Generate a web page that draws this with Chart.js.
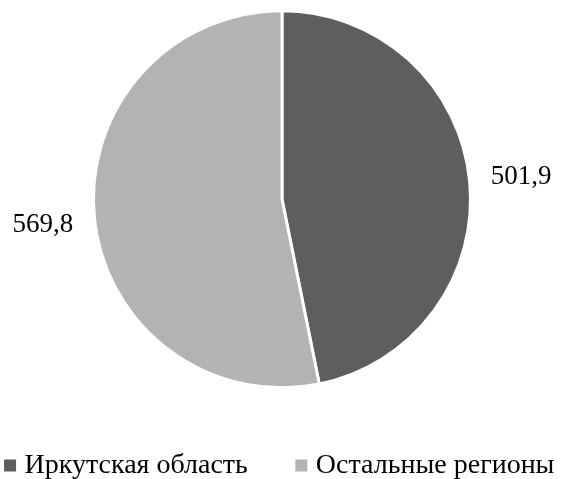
<!DOCTYPE html>
<html>
<head>
<meta charset="utf-8">
<script src="https://cdn.jsdelivr.net/npm/chart.js@4/dist/chart.umd.min.js"></script>
<style>
html,body{margin:0;padding:0;background:#fff;}
#wrap{width:564px;height:479px;position:relative;}
</style>
</head>
<body>
<div id="wrap"><canvas id="c"></canvas></div>
<script>
const categories = ["Иркутская область", "Остальные регионы"];
const values = [501.9, 569.8];
const valueLabels = ["501,9", "569,8"];
const colors = ["#5e5e5e", "#b3b3b3"];

const FONT = '"Liberation Serif", "Times New Roman", serif';
const LABEL_SIZE = 27;

const labelPlugin = {
  id: 'sliceLabels',
  afterDatasetsDraw(chart) {
    const ctx = chart.ctx;
    const meta = chart.getDatasetMeta(0);
    ctx.save();
    ctx.font = LABEL_SIZE + 'px ' + FONT;
    ctx.fillStyle = '#000';
    ctx.textAlign = 'center';
    ctx.textBaseline = 'alphabetic';
    meta.data.forEach((arc, i) => {
      const p = arc.getProps(['x','y','startAngle','endAngle','outerRadius'], true);
      const mid = (p.startAngle + p.endAngle) / 2;
      const d = p.outerRadius * 1.275;
      const x = p.x + Math.cos(mid) * d;
      const y = p.y + Math.sin(mid) * d + LABEL_SIZE * 0.33;
      ctx.fillText(valueLabels[i], x, y);
    });
    ctx.restore();
  }
};

new Chart(document.getElementById('c'), {
  type: 'pie',
  data: {
    labels: categories,
    datasets: [{
      data: values,
      backgroundColor: colors,
      borderColor: '#ffffff',
      borderWidth: 3,
      radius: 188.5
    }]
  },
  options: {
    responsive: true,
    maintainAspectRatio: false,
    animation: false,
    layout: {padding: {top: 0, bottom: -10.5, left: -45, right: -45}},
    plugins: {
      tooltip: {enabled: false},
      legend: {
        position: 'bottom',
        labels: {
          font: {family: FONT, size: 28},
          color: '#000',
          boxWidth: 1,
          boxHeight: 1,
          padding: 53,
          generateLabels(chart) {
            return categories.map((t, i) => ({
              text: t,
              fillStyle: colors[i],
              strokeStyle: colors[i],
              lineWidth: 11,
              fontColor: '#000',
              hidden: false,
              index: i
            }));
          }
        }
      }
    }
  },
  plugins: [labelPlugin]
});
</script>
</body>
</html>
